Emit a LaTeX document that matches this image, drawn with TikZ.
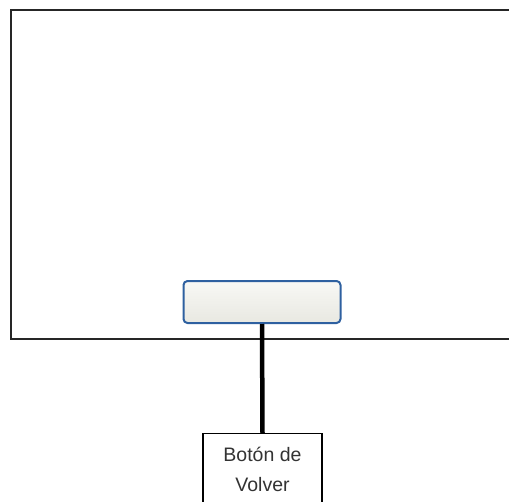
\documentclass[tikz,border=0pt]{standalone}
\usepackage{fontspec}
\setmainfont{Liberation Sans}
\begin{document}
\begin{tikzpicture}[x=1pt,y=-1pt,
  frame/.style={draw=black!85,line width=1.5pt},
  btn/.style={draw={rgb,255:red,46;green,96;blue,160},line width=2pt,rounded corners=4pt,
    top color={rgb,255:red,248;green,248;blue,245},bottom color={rgb,255:red,232;green,232;blue,225}},
  lbl/.style={draw=black,line width=1.3pt,fill=white},
  conn/.style={line width=4.5pt,black}]
\useasboundingbox (0,0) rectangle (509,501);
\draw[frame] (515,10) -- (11,10) -- (11,339) -- (515,339);
\node[btn,minimum width=157pt,minimum height=42pt,inner sep=0pt] (button) at (262,302) {};
\node[lbl,minimum width=119pt,minimum height=80pt,inner sep=0pt,anchor=north] (label) at (262.5,433) {};
\node[text=black!80,font=\fontsize{19.5}{30}\selectfont,align=center,anchor=north] (labeltext) at (262.5,444) {Botón de\\Volver};
\draw[conn] (button.south) -- (label.north);
\end{tikzpicture}
\end{document}
